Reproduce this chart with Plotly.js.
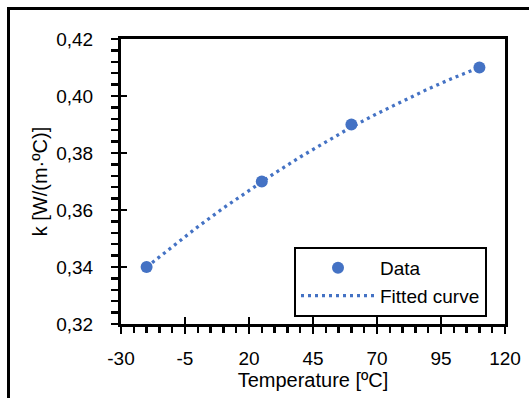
<!DOCTYPE html>
<html>
<head>
<meta charset="utf-8">
<script src="https://cdn.plot.ly/plotly-3.0.1.min.js"></script>
<style>
html,body{margin:0;padding:0;background:#fff;overflow:hidden;}
#wrap{position:relative;width:529px;height:398px;overflow:hidden;}
#chart{position:absolute;left:0;top:0;width:529px;height:398px;}
#frame{position:absolute;left:7px;top:7px;width:600px;height:600px;border-top:3px solid #000;border-left:3px solid #000;pointer-events:none;z-index:5;}
</style>
</head>
<body>
<div id="wrap">
<div id="chart"></div>
<div id="frame"></div>
</div>
<script>
// Measured data points
const dataTemp = [-20, 25, 60, 110];
const dataK = [0.34, 0.37, 0.39, 0.41];
// Fitted curve
const fitTemp = [-20, -10, 0, 10, 20, 30, 40, 50, 60, 70, 80, 90, 100, 110];
const fitK = [0.3400, 0.3472, 0.3541, 0.3607, 0.3669, 0.3729, 0.3786, 0.3840, 0.3891, 0.3938, 0.3983, 0.4025, 0.4064, 0.4100];
// Tick labels
const xTickVals = [-30, -5, 20, 45, 70, 95, 120];
const xTickText = ["-30", "-5", "20", "45", "70", "95", "120"];
const yTickVals = [0.32, 0.34, 0.36, 0.38, 0.40, 0.42];
const yTickText = ["0,32", "0,34", "0,36", "0,38", "0,40", "0,42"];
const seriesNames = ["Data", "Fitted curve"];
const xTitle = "Temperature [ºC]";
const yTitle = "k [W/(m·ºC)]";

const blue = "#4472C4";
const fam = "Liberation Sans, Arial, sans-serif";

const traces = [
  {
    x: fitTemp, y: fitK, name: seriesNames[1], type: "scatter", mode: "lines",
    line: {color: blue, width: 3.3, dash: "3px,4px"},
    xaxis: "x", yaxis: "y", hoverinfo: "skip"
  },
  {
    x: dataTemp, y: dataK, name: seriesNames[0], type: "scatter", mode: "markers",
    marker: {color: blue, size: 12},
    xaxis: "x2", yaxis: "y2"
  }
];

const xRange = [-30, 120];
const yRange = [0.32, 0.42];

const layout = {
  width: 529, height: 398,
  margin: {l: 121, r: 24, t: 39, b: 74, pad: 0},
  paper_bgcolor: "#fff", plot_bgcolor: "#fff",
  font: {family: fam, color: "#000"},
  showlegend: true,
  legend: {
    x: (294 - 121) / 384, xanchor: "left", y: (324 - 247) / 285, yanchor: "top",
    bordercolor: "#000", borderwidth: 2, bgcolor: "#fff",
    font: {family: fam, size: 19, color: "#000"},
    traceorder: "reversed", tracegroupgap: 0, itemwidth: 74
  },
  xaxis: {
    range: xRange, tickmode: "array", tickvals: xTickVals, ticktext: xTickText,
    ticks: "outside", ticklen: 7, tickwidth: 2.5, tickcolor: "#000",
    minor: {ticks: "outside", dtick: 5, tick0: -30, ticklen: 6, tickwidth: 2.5, tickcolor: "#000", showgrid: false},
    showline: true, linecolor: "#000", linewidth: 3, mirror: true,
    showgrid: false, zeroline: false,
    tickfont: {family: fam, size: 19, color: "#000"},
    ticklabelstandoff: 8,
    title: {text: xTitle, font: {family: fam, size: 20, color: "#000"}, standoff: 6}
  },
  yaxis: {
    range: yRange, tickmode: "array", tickvals: yTickVals, ticktext: yTickText,
    ticks: "outside", ticklen: 7, tickwidth: 2.5, tickcolor: "#000",
    minor: {ticks: "outside", dtick: 0.004, tick0: 0.32, ticklen: 7, tickwidth: 2.5, tickcolor: "#000", showgrid: false},
    showline: true, linecolor: "#000", linewidth: 3, mirror: true,
    showgrid: false, zeroline: false,
    tickfont: {family: fam, size: 19, color: "#000"},
    ticklabelstandoff: 14,
    title: {text: yTitle, font: {family: fam, size: 20, color: "#000"}, standoff: 4}
  },
  xaxis2: {
    overlaying: "x", matches: "x", side: "bottom", range: xRange,
    tickmode: "array", tickvals: xTickVals, ticks: "inside", ticklen: 7, tickwidth: 2.5, tickcolor: "#000",
    showticklabels: false, showline: false, showgrid: false, zeroline: false
  },
  yaxis2: {
    overlaying: "y", matches: "y", side: "left", range: yRange,
    tickmode: "array", tickvals: yTickVals, ticks: "inside", ticklen: 6, tickwidth: 2.5, tickcolor: "#000",
    showticklabels: false, showline: false, showgrid: false, zeroline: false
  }
};

Plotly.newPlot("chart", traces, layout, {staticPlot: true, displayModeBar: false});
</script>
</body>
</html>
